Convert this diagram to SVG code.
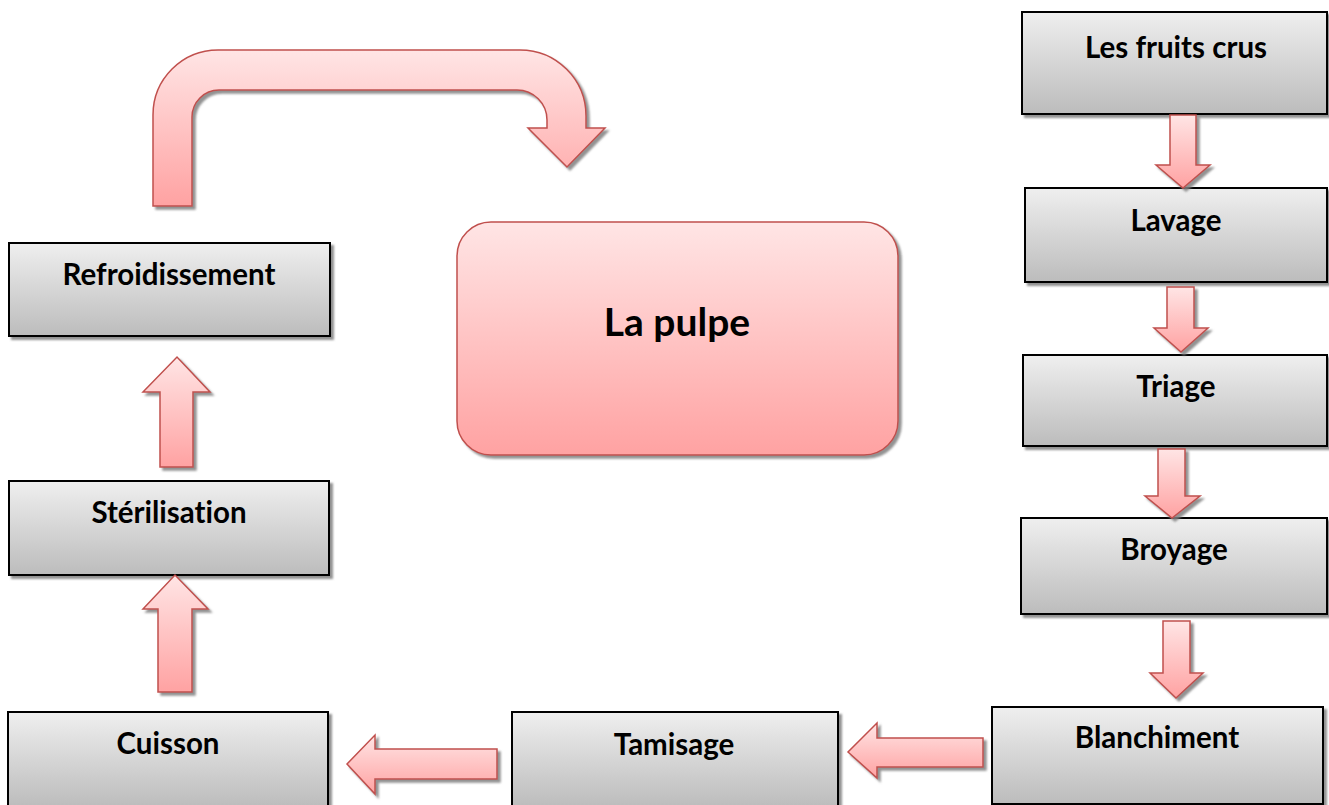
<svg xmlns="http://www.w3.org/2000/svg" width="1329" height="805" viewBox="0 0 1329 805">
  <defs>
    <linearGradient id="boxFill" x1="0" y1="0" x2="0" y2="1">
      <stop offset="0" stop-color="#efefef"/>
      <stop offset="1" stop-color="#bcbcbc"/>
    </linearGradient>
    <linearGradient id="pinkFill" x1="0" y1="0" x2="0" y2="1">
      <stop offset="0" stop-color="#ffe5e5"/>
      <stop offset="1" stop-color="#ffa2a2"/>
    </linearGradient>
    <filter id="drop" x="-10%" y="-10%" width="130%" height="130%">
      <feOffset in="SourceAlpha" dx="3" dy="3" result="off"/>
      <feGaussianBlur in="off" stdDeviation="0.8" result="blur"/>
      <feFlood flood-color="#7f7f7f" flood-opacity="0.85"/>
      <feComposite in2="blur" operator="in" result="shadow"/>
      <feMerge>
        <feMergeNode in="shadow"/>
        <feMergeNode in="SourceGraphic"/>
      </feMerge>
    </filter>
  </defs>
  <style>
    .box { fill: url(#boxFill); stroke: #000; stroke-width: 2; filter: url(#drop); }
    .pulp { fill: url(#pinkFill); stroke: #c0504d; stroke-width: 1.5; filter: url(#drop); }
    .arrow { fill: url(#pinkFill); stroke: #c0504d; stroke-width: 1.5; stroke-linejoin: miter; filter: url(#drop); }
    .label { font-family: Lato, "Open Sans", "Liberation Sans", sans-serif; font-weight: bold; font-size: 29.5px; fill: #000; text-anchor: middle; font-variant-ligatures: none; }
    .big { font-size: 39px; }
  </style>
  <rect width="1329" height="805" fill="#fff"/>

  <!-- process steps -->
  <g id="fruits">
    <rect class="box" x="1022" y="12" width="305" height="102"/>
    <text class="label" x="1176" y="58">Les fruits crus</text>
  </g>
  <g id="lavage">
    <rect class="box" x="1025" y="188" width="302" height="94"/>
    <text class="label" x="1176" y="231">Lavage</text>
  </g>
  <g id="triage">
    <rect class="box" x="1023" y="355" width="304" height="91"/>
    <text class="label" x="1176" y="397">Triage</text>
  </g>
  <g id="broyage">
    <rect class="box" x="1021" y="518" width="306" height="96"/>
    <text class="label" x="1174" y="560">Broyage</text>
  </g>
  <g id="blanchiment">
    <rect class="box" x="992" y="707" width="331" height="97"/>
    <text class="label" x="1157" y="748">Blanchiment</text>
  </g>
  <g id="tamisage">
    <rect class="box" x="512" y="712" width="326" height="95"/>
    <text class="label" x="674" y="755">Tamisage</text>
  </g>
  <g id="cuisson">
    <rect class="box" x="8" y="712" width="320" height="95"/>
    <text class="label" x="168" y="754">Cuisson</text>
  </g>
  <g id="sterilisation">
    <rect class="box" x="9" y="481" width="320" height="94"/>
    <text class="label" x="169" y="523">Stérilisation</text>
  </g>
  <g id="refroidissement">
    <rect class="box" x="9" y="243" width="321" height="93"/>
    <text class="label" x="169" y="285">Refroidissement</text>
  </g>
  <g id="pulpe">
    <rect class="pulp" x="457" y="222" width="441" height="233" rx="34" ry="34"/>
    <text class="label big" x="677" y="336">La pulpe</text>
  </g>

  <!-- block arrows between steps -->
  <g id="connectors">
    <path class="arrow" d="M1170,115 H1196 V165 H1210 L1183,188 L1156,165 H1170 Z"/>
    <path class="arrow" d="M1167,287 H1194 V328 H1208 L1181,352 L1154,328 H1167 Z"/>
    <path class="arrow" d="M1158,449 H1185 V496 H1200 L1172,518 L1145,496 H1158 Z"/>
    <path class="arrow" d="M1163,621 H1190 V673 H1203 L1176,698 L1150,673 H1163 Z"/>
    <path class="arrow" d="M983,738 V767 H877 V778 L848,752 L877,723 V738 Z"/>
    <path class="arrow" d="M497,749 V779 H375 V794 L347,764 L375,735 V749 Z"/>
    <path class="arrow" d="M158,692 H192 V609 H208 L175,575 L143,609 H158 Z"/>
    <path class="arrow" d="M160,467 H193 V392 H210 L177,357 L143,392 H160 Z"/>
    <path class="arrow" d="M153,206 V115 A65,65 0 0 1 218,50 H520 A66,66 0 0 1 586,116 V128 H605 L567,167 L528,128 H547 V120 A30,30 0 0 0 517,90 H219 A27,27 0 0 0 192,117 V206 Z"/>
  </g>
</svg>
